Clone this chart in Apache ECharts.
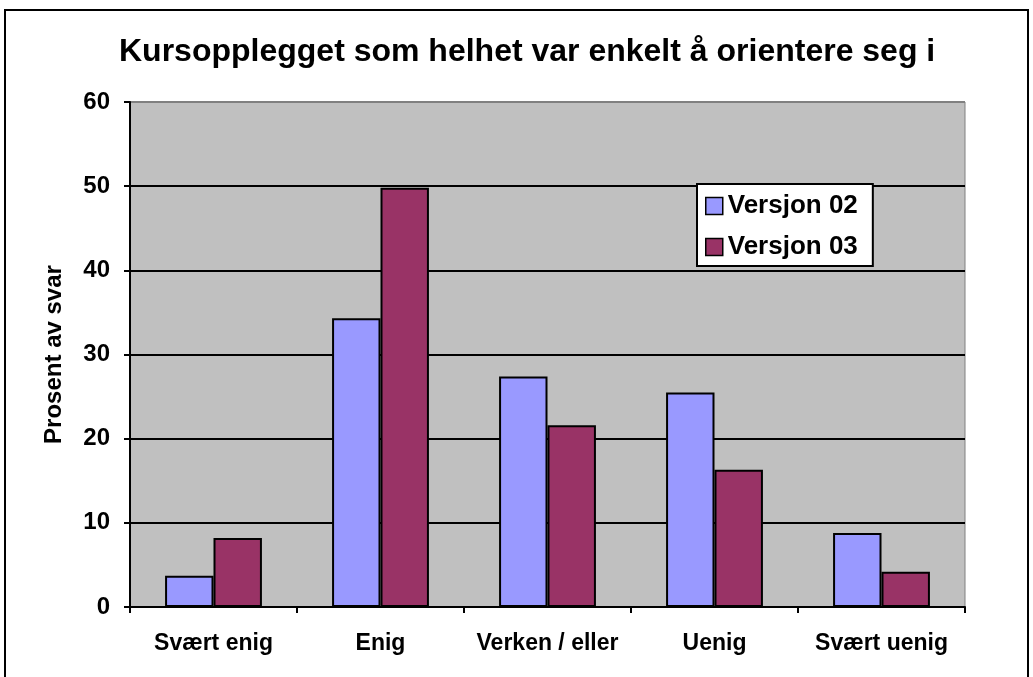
<!DOCTYPE html>
<html lang="no">
<head>
<meta charset="UTF-8">
<title>Kursopplegget</title>
<script src="https://cdn.jsdelivr.net/npm/echarts@6/dist/echarts.min.js"></script>
<style>
  html, body { margin: 0; padding: 0; background: #fff; }
  #main { width: 1033px; height: 677px; }
</style>
</head>
<body>
<div id="main"></div>
<script>
var categories = ['Svært enig', 'Enig', 'Verken / eller', 'Uenig', 'Svært uenig'];
var versjon02 = [3.7, 34.3, 27.4, 25.5, 8.8];
var versjon03 = [8.2, 49.8, 21.6, 16.3, 4.2];

var chart = echarts.init(document.getElementById('main'));
var font = 'Liberation Sans, Arial, sans-serif';

var option = {
    animation: false,
    backgroundColor: '#fff',
    textStyle: { fontFamily: font },
    title: {
        text: 'Kursopplegget som helhet var enkelt å orientere seg i',
        left: 114,
        top: 31,
        textStyle: { fontFamily: font, fontSize: 32, fontWeight: 'bold', color: '#000' }
    },
    legend: {
        orient: 'vertical',
        left: 697,
        top: 184,
        backgroundColor: '#fff',
        borderColor: '#000',
        borderWidth: 2,
        padding: [9, 15, 6, 8],
        itemWidth: 17,
        itemHeight: 17,
        itemGap: 15,
        icon: 'rect',
        itemStyle: { borderColor: '#000', borderWidth: 1.5 },
        textStyle: { fontFamily: font, fontSize: 26, fontWeight: 'bold', color: '#000' },
        data: ['Versjon 02', 'Versjon 03']
    },
    grid: {
        left: 130,
        top: 102,
        right: 68,
        bottom: 70,
        show: true,
        backgroundColor: '#c0c0c0',
        borderColor: '#808080',
        borderWidth: 1
    },
    xAxis: {
        type: 'category',
        data: categories,
        axisLine: { lineStyle: { color: '#000', width: 2 } },
        axisTick: { show: true, interval: 0, length: 6, alignWithLabel: false, lineStyle: { color: '#000', width: 2 } },
        axisLabel: { interval: 0, margin: 25, fontFamily: font, fontSize: 23, fontWeight: 'bold', color: '#000' }
    },
    yAxis: {
        type: 'value',
        min: 0,
        max: 60,
        interval: 10,
        name: 'Prosent av svar',
        nameLocation: 'middle',
        nameGap: 64,
        nameTextStyle: { fontFamily: font, fontSize: 24, fontWeight: 'bold', color: '#000' },
        axisLine: { show: true, lineStyle: { color: '#000', width: 2 } },
        axisTick: { show: true, inside: false, length: 6, lineStyle: { color: '#000', width: 2 } },
        axisLabel: { margin: 20, fontFamily: font, fontSize: 24, fontWeight: 'bold', color: '#000' },
        splitLine: {
            show: true,
            lineStyle: { color: ['#000', '#000', '#000', '#000', '#000', '#000', '#808080'], width: 2 }
        }
    },
    series: [
        {
            name: 'Versjon 02',
            type: 'bar',
            data: versjon02,
            barGap: '0%',
            barCategoryGap: '42%',
            itemStyle: { color: '#9999ff', borderColor: '#000', borderWidth: 2 }
        },
        {
            name: 'Versjon 03',
            type: 'bar',
            data: versjon03,
            barGap: '0%',
            barCategoryGap: '42%',
            itemStyle: { color: '#993366', borderColor: '#000', borderWidth: 2 }
        }
    ],
    graphic: [
        {
            type: 'rect',
            shape: { x: 5, y: 10, width: 1023, height: 700 },
            style: { fill: 'none', stroke: '#000', lineWidth: 2 },
            silent: true
        }
    ]
};

chart.setOption(option);
</script>
</body>
</html>
